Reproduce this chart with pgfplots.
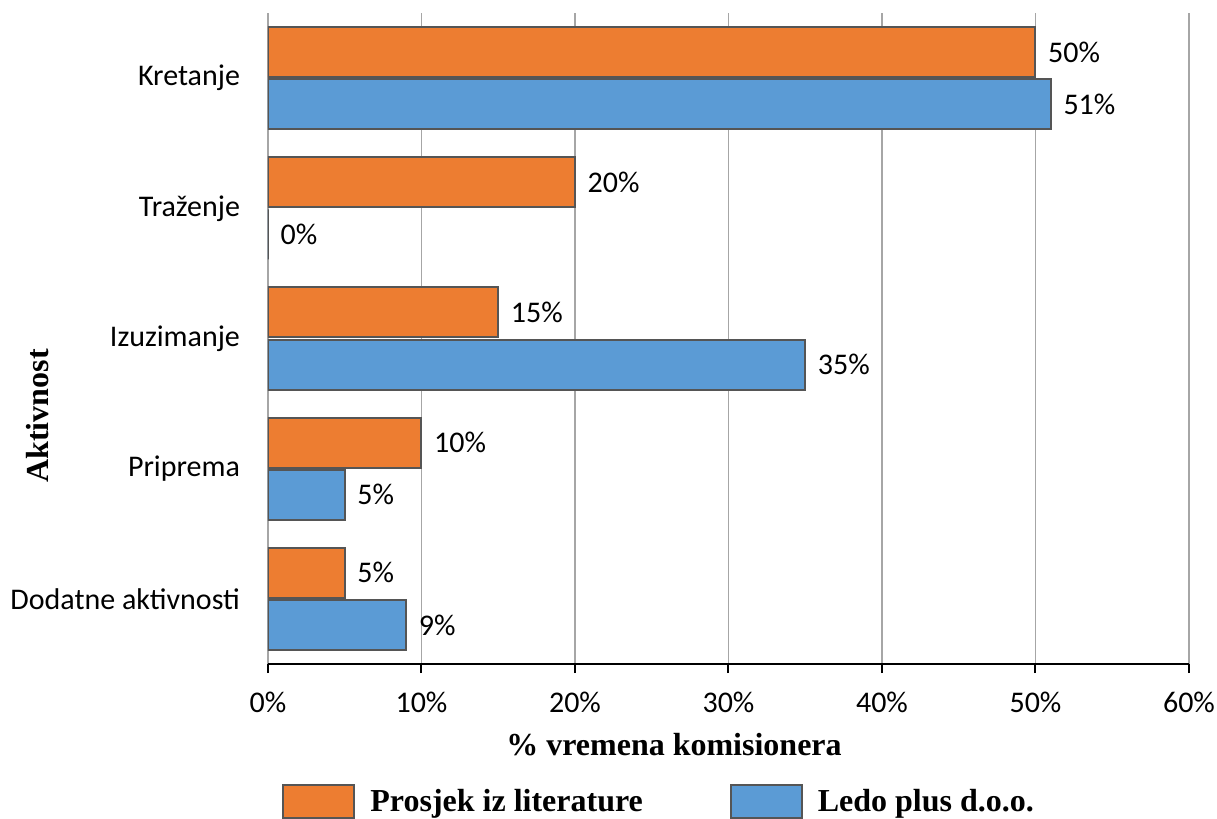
\documentclass[border=0pt]{standalone}
\usepackage{pgfplots}
\pgfplotsset{compat=1.18}
\usepackage{fontspec}
\setmainfont{Carlito}
\newfontfamily\tnr{Liberation Serif}
\definecolor{bOrange}{HTML}{ED7D31}
\definecolor{bBlue}{HTML}{5B9BD5}
\definecolor{bEdge}{HTML}{555555}
\definecolor{gridc}{HTML}{A6A6A6}
\begin{document}
\begin{tikzpicture}
\path[use as bounding box] (0,0) rectangle (608.5pt,409.5pt);
\node[rotate=90, font=\tnr\bfseries\fontsize{16pt}{18pt}\selectfont] at (19pt,201.5pt) {Aktivnost};
\node[anchor=base, font=\tnr\bfseries\fontsize{16pt}{18pt}\selectfont] at (337pt,31.5pt) {\% vremena komisionera};
\begin{axis}[
  at={(134pt,77.5pt)}, anchor=south west,
  scale only axis, width=460.5pt, height=325.5pt,
  xbar, xmin=0, xmax=60, ymin=-0.5, ymax=4.5, y dir=reverse,
  bar width=0.384,
  axis x line*=bottom, axis y line*=left,
  x axis line style={black, line width=1pt},
  y axis line style={draw=none},
  xtick={0,10,20,30,40,50,60},
  xticklabels={0\%,10\%,20\%,30\%,40\%,50\%,60\%},
  ytick={0,1,2,3,4},
  yticklabels={Kretanje,Traženje,Izuzimanje,Priprema,Dodatne aktivnosti},
  ytick style={draw=none},
  xtick style={black, line width=1pt},
  tick align=outside, major tick length=4.5pt,
  xmajorgrids, major grid style={gridc, line width=0.9pt},
  tick label style={font=\fontsize{15pt}{18pt}\selectfont},
  xticklabel style={yshift=-6pt},
  yticklabel style={xshift=-6pt},
  point meta=x,
  nodes near coords={\pgfmathprintnumber[assume math mode=true]{\pgfplotspointmeta}\%},
  every node near coord/.append style={font=\fontsize{15pt}{18pt}\selectfont, anchor=west, xshift=2.5pt, black},
  legend columns=2,
  legend style={at={(0.0152,-0.1843)}, anchor=north west, draw=none, fill=white,
     inner xsep=0pt, inner ysep=0pt,
     font=\tnr\bfseries\fontsize{16pt}{18pt}\selectfont,
     /tikz/every even column/.append style={column sep=41.5pt}},
  legend image code/.code={\draw[#1, line width=1pt] (0pt,-8.25pt) rectangle (35.5pt,8.25pt);\path (41pt,0pt);},
]
\addplot[fill=bOrange, draw=bEdge, line width=1pt, bar shift=-0.2] coordinates {(50,0) (20,1) (15,2) (10,3) (5,4)};
\addplot[fill=bBlue, draw=bEdge, line width=1pt, bar shift=0.2] coordinates {(51,0) (0,1) (35,2) (5,3) (9,4)};
\legend{Prosjek iz literature, Ledo plus d.o.o.}
\end{axis}
\fill[white] (134pt,30pt) rectangle (608.5pt,31pt);
\end{tikzpicture}
\end{document}
